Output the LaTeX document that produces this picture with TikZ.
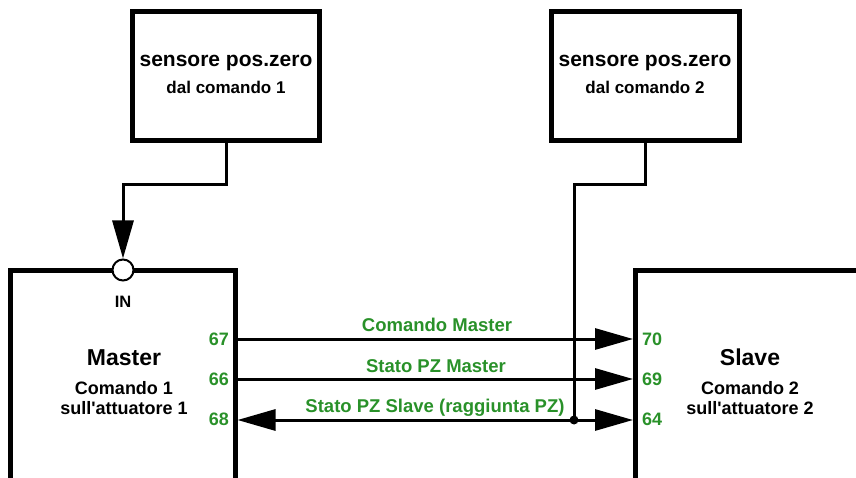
\documentclass[tikz,border=0pt]{standalone}
\usepackage{fontspec}
\newfontfamily\lsans{Liberation Sans}
\usetikzlibrary{arrows.meta}
\definecolor{lblgreen}{RGB}{41,145,41}
\tikzset{
  box/.style={draw, line width=5pt, rectangle, inner sep=0pt},
  wire/.style={draw, line width=3pt},
  tip/.style={-{Triangle[length=38pt,width=21pt]}},
  bitip/.style={{Triangle[length=38pt,width=21pt]}-{Triangle[length=38pt,width=21pt]}},
  txt/.style={anchor=base, inner sep=0pt, font=\lsans\bfseries},
  gtxt/.style={txt, text=lblgreen},
}
\begin{document}
\begin{tikzpicture}[x=1pt,y=-1pt]
\useasboundingbox (0,0) rectangle (856,478);
% sensor boxes
\node[box, minimum width=187pt, minimum height=129pt] (s1) at (226,76) {};
\node[box, minimum width=188pt, minimum height=129pt] (s2) at (645,76) {};
\node[txt, font=\lsans\bfseries\fontsize{21}{25}\selectfont] (s1a) at (226,67) {sensore pos.zero};
\node[txt, font=\lsans\bfseries\fontsize{17}{20}\selectfont] (s1b) at (226,94) {dal comando 1};
\node[txt, font=\lsans\bfseries\fontsize{21}{25}\selectfont] (s2a) at (645,67) {sensore pos.zero};
\node[txt, font=\lsans\bfseries\fontsize{17}{20}\selectfont] (s2b) at (645,94) {dal comando 2};
% master and slave open boxes
\draw[line width=5pt] (10.5,480) |- (235,270.5) -- (235,480);
\draw[line width=5pt] (635.5,480) |- (860,270.5);
\coordinate (m67) at (237.5,339);
\coordinate (m66) at (237.5,379);
\coordinate (m68) at (237.5,420);
\coordinate (s70) at (633,339);
\coordinate (s69) at (633,379);
\coordinate (s64) at (633,420);
% IN circle
\node[circle, draw, line width=2pt, fill=white, minimum size=21pt, inner sep=0pt] (in) at (123,270) {};
\node[txt, font=\lsans\bfseries\fontsize{16.5}{19}\selectfont] (inl) at (123,307) {IN};
% master text
\node[txt, font=\lsans\bfseries\fontsize{23}{27}\selectfont] (mt) at (124,365) {Master};
\node[txt, font=\lsans\bfseries\fontsize{18}{21}\selectfont] (mt2) at (124,394) {Comando 1};
\node[txt, font=\lsans\bfseries\fontsize{18}{21}\selectfont] (mt3) at (124,414) {sull'attuatore 1};
% slave text
\node[txt, font=\lsans\bfseries\fontsize{23}{27}\selectfont] (st) at (750,365) {Slave};
\node[txt, font=\lsans\bfseries\fontsize{18}{21}\selectfont] (st2) at (750,394) {Comando 2};
\node[txt, font=\lsans\bfseries\fontsize{18}{21}\selectfont] (st3) at (750,414) {sull'attuatore 2};
% pin numbers
\node[gtxt, anchor=base east, font=\lsans\bfseries\fontsize{18}{21}\selectfont] (p67) at (229,345) {67};
\node[gtxt, anchor=base east, font=\lsans\bfseries\fontsize{18}{21}\selectfont] (p66) at (229,385) {66};
\node[gtxt, anchor=base east, font=\lsans\bfseries\fontsize{18}{21}\selectfont] (p68) at (229,425) {68};
\node[gtxt, anchor=base west, font=\lsans\bfseries\fontsize{18}{21}\selectfont] (p70) at (642,345) {70};
\node[gtxt, anchor=base west, font=\lsans\bfseries\fontsize{18}{21}\selectfont] (p69) at (642,385) {69};
\node[gtxt, anchor=base west, font=\lsans\bfseries\fontsize{18}{21}\selectfont] (p64) at (642,425) {64};
% signal labels
\node[gtxt, font=\lsans\bfseries\fontsize{18.5}{22}\selectfont] (l1) at (437,331) {Comando Master};
\node[gtxt, font=\lsans\bfseries\fontsize{18.5}{22}\selectfont] (l2) at (436,372) {Stato PZ Master};
\node[gtxt, font=\lsans\bfseries\fontsize{18.5}{22}\selectfont] (l3) at (435,412) {Stato PZ Slave (raggiunta PZ)};
% dot
\node[circle, fill=black, minimum size=9pt, inner sep=0pt] (dot) at (574,420) {};
% connectors
\draw[wire, tip] (s1.south) -- ++(0,42) -| (in.north);
\draw[wire] (s2.south) -- ++(0,42) -| (dot.center);
\draw[wire, tip] (m67) -- (s70);
\draw[wire, tip] (m66) -- (s69);
\draw[wire, bitip] (m68) -- (s64);
\end{tikzpicture}
\end{document}
